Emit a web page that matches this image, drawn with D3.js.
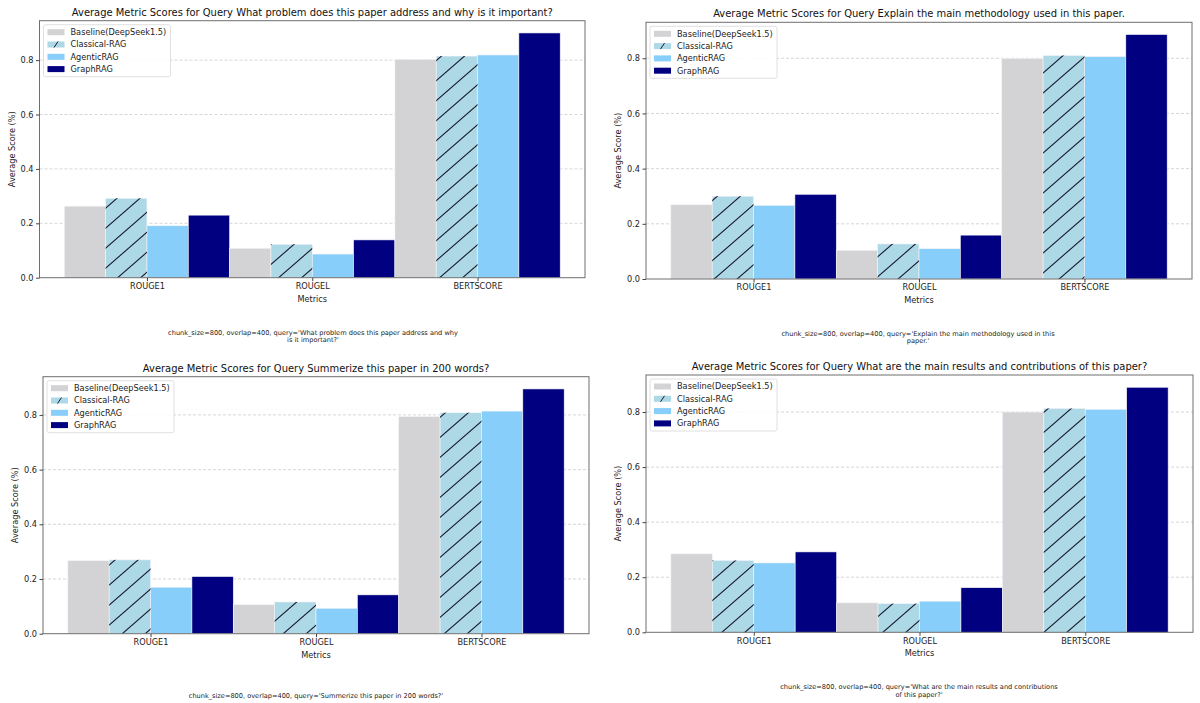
<!DOCTYPE html>
<html>
<head>
<meta charset="utf-8">
<script src="https://cdn.jsdelivr.net/npm/d3@7"></script>
<style>
  body { margin: 0; background: #fff; }
  svg { display: block; font-family: "DejaVu Sans", sans-serif; }
</style>
</head>
<body>
<div id="chart"></div>
<script>
//////////////////////////////////////////////////////////////////////////////
// Data

var metrics = ["ROUGE1", "ROUGEL", "BERTSCORE"];
var methods = ["Baseline(DeepSeek1.5)", "Classical-RAG", "AgenticRAG", "GraphRAG"];
var yTicks = [0.0, 0.2, 0.4, 0.6, 0.8];

var queries = [
    "What problem does this paper address and why is it important?",
    "Explain the main methodology used in this paper.",
    "Summerize this paper in 200 words?",
    "What are the main results and contributions of this paper?"
];

// rows = metric, columns = method
var scoresProblem = [[0.263, 0.292, 0.191, 0.230],
                     [0.108, 0.123, 0.087, 0.139],
                     [0.803, 0.815, 0.819, 0.900]];
var scoresMethod  = [[0.269, 0.300, 0.267, 0.307],
                     [0.104, 0.127, 0.110, 0.159],
                     [0.799, 0.810, 0.806, 0.886]];
var scoresSummary = [[0.267, 0.270, 0.170, 0.209],
                     [0.106, 0.116, 0.093, 0.142],
                     [0.794, 0.808, 0.814, 0.895]];
var scoresResults = [[0.285, 0.261, 0.252, 0.292],
                     [0.107, 0.104, 0.113, 0.162],
                     [0.800, 0.813, 0.810, 0.890]];

var captionLines = [
    ["chunk_size=800, overlap=400, query='What problem does this paper address and why", "is it important?'"],
    ["chunk_size=800, overlap=400, query='Explain the main methodology used in this", "paper.'"],
    ["chunk_size=800, overlap=400, query='Summerize this paper in 200 words?'"],
    ["chunk_size=800, overlap=400, query='What are the main results and contributions", "of this paper?'"]
];

//////////////////////////////////////////////////////////////////////////////
// Layout and style

var colors = ["#d3d2d5", "#add8e6", "#87cefa", "#000080"];

var panels = [
    {scores: scoresProblem, x0: 39.5, x1: 585,  y0: 20.7,  y1: 277.7, ylab: 12.5, capX: 313, capY: 332.3},
    {scores: scoresMethod,  x0: 646,  x1: 1192, y0: 22.3,  y1: 279,   ylab: 618.5, capX: 918, capY: 333.7},
    {scores: scoresSummary, x0: 43,   x1: 589,  y0: 376.7, y1: 633.7, ylab: 15.5, capX: 316, capY: 695.3},
    {scores: scoresResults, x0: 646,  x1: 1193, y0: 375,   y1: 632.3, ylab: 618.5, capX: 919, capY: 687}
];

var W = 1200, H = 703;

var svg = d3.select("#chart").append("svg")
    .attr("width", W)
    .attr("height", H);

var defs = svg.append("defs");
var hw = 23, hh = 20;
defs.append("pattern")
    .attr("id", "hatch")
    .attr("patternUnits", "userSpaceOnUse")
    .attr("width", hw)
    .attr("height", hh)
  .append("path")
    .attr("d", "M0," + hh + " L" + hw + ",0" +
               " M" + (-hw * 0.2) + "," + (hh * 0.2) + " L" + (hw * 0.2) + "," + (-hh * 0.2) +
               " M" + (hw * 0.8) + "," + (hh * 1.2) + " L" + (hw * 1.2) + "," + (hh * 0.8))
    .attr("stroke", "#1a1a2e")
    .attr("stroke-width", 1.1);

function drawPanel(p, i)
{
    var g = svg.append("g");
    var data = p.scores;
    var maxVal = d3.max(data, function(r) { return d3.max(r); });

    var x = d3.scaleLinear().domain([-0.65, 2.65]).range([p.x0, p.x1]);
    var y = d3.scaleLinear().domain([0, maxVal * 1.05]).range([p.y1, p.y0]);
    var bw = x(0.25) - x(0);

    // grid
    g.append("g").selectAll("line")
        .data(yTicks.slice(1))
        .enter().append("line")
        .attr("x1", p.x0).attr("x2", p.x1)
        .attr("y1", function(d) { return y(d); })
        .attr("y2", function(d) { return y(d); })
        .attr("stroke", "#c4c4c4")
        .attr("stroke-width", 0.7)
        .attr("stroke-dasharray", "3,2");

    // bars
    var groups = g.append("g").selectAll("g")
        .data(data)
        .enter().append("g");

    groups.selectAll("rect")
        .data(function(row, mi) {
            return row.map(function(v, si) { return {m: mi, s: si, v: v}; });
        })
        .enter().append("rect")
        .attr("x", function(d) { return x(d.m - 0.5 + d.s * 0.25); })
        .attr("y", function(d) { return y(d.v); })
        .attr("width", bw)
        .attr("height", function(d) { return y(0) - y(d.v); })
        .attr("fill", function(d) { return colors[d.s]; })
        .attr("stroke", "#f4f4f8")
        .attr("stroke-width", 0.6);

    groups.selectAll("rect.hatch")
        .data(function(row, mi) { return [{m: mi, v: row[1]}]; })
        .enter().append("rect")
        .attr("class", "hatch")
        .attr("x", function(d) { return x(d.m - 0.25); })
        .attr("y", function(d) { return y(d.v); })
        .attr("width", bw)
        .attr("height", function(d) { return y(0) - y(d.v); })
        .attr("fill", "url(#hatch)");

    // frame
    g.append("rect")
        .attr("x", p.x0).attr("y", p.y0)
        .attr("width", p.x1 - p.x0).attr("height", p.y1 - p.y0)
        .attr("fill", "none")
        .attr("stroke", "#6e6e6e")
        .attr("stroke-width", 1);

    // axes
    var yAxis = d3.axisLeft(y).tickValues(yTicks).tickFormat(d3.format(".1f")).tickSize(3.5).tickPadding(2.5);
    var ya = g.append("g").attr("transform", "translate(" + p.x0 + ",0)").call(yAxis);
    var xAxis = d3.axisBottom(x).tickValues([0, 1, 2]).tickFormat(function(d) { return metrics[d]; }).tickSize(3.5).tickPadding(2);
    var xa = g.append("g").attr("transform", "translate(0," + p.y1 + ")").call(xAxis);
    [ya, xa].forEach(function(a) {
        a.select(".domain").remove();
        a.selectAll("line").attr("stroke", "#444");
        a.selectAll("text").attr("font-size", 8.2).attr("fill", "#222")
            .attr("font-family", "DejaVu Sans, sans-serif");
    });

    // titles and labels
    g.append("text")
        .attr("x", (p.x0 + p.x1) / 2)
        .attr("y", p.y0 - 5)
        .attr("text-anchor", "middle")
        .attr("font-size", 9.95)
        .attr("fill", "#111")
        .text("Average Metric Scores for Query " + queries[i]);

    g.append("text")
        .attr("x", (p.x0 + p.x1) / 2)
        .attr("y", p.y1 + 24)
        .attr("text-anchor", "middle")
        .attr("font-size", 8.2)
        .attr("fill", "#222")
        .text("Metrics");

    g.append("text")
        .attr("transform", "translate(" + p.ylab + "," + ((p.y0 + p.y1) / 2) + ") rotate(-90)")
        .attr("dy", "0.35em")
        .attr("text-anchor", "middle")
        .attr("font-size", 8.2)
        .attr("fill", "#222")
        .text("Average Score (%)");

    g.append("g").selectAll("text")
        .data(captionLines[i])
        .enter().append("text")
        .attr("x", p.capX)
        .attr("y", function(d, k) { return p.capY + k * 7.4; })
        .attr("dy", "0.35em")
        .attr("text-anchor", "middle")
        .attr("font-size", 6.6)
        .attr("fill", "#222")
        .text(function(d) { return d; });

    // legend
    var lg = g.append("g").attr("transform", "translate(" + (p.x0 + 4) + "," + (p.y0 + 4) + ")");
    lg.append("rect")
        .attr("width", 127).attr("height", 52)
        .attr("rx", 2)
        .attr("fill", "#fff")
        .attr("fill-opacity", 0.85)
        .attr("stroke", "#d8d8d8")
        .attr("stroke-width", 0.8);
    var items = lg.selectAll("g.item")
        .data(methods)
        .enter().append("g")
        .attr("class", "item")
        .attr("transform", function(d, k) { return "translate(4," + (7.5 + k * 12.3) + ")"; });
    items.append("rect")
        .attr("y", -3)
        .attr("width", 17).attr("height", 6)
        .attr("fill", function(d, k) { return colors[k]; });
    items.filter(function(d, k) { return k === 1; })
        .append("line")
        .attr("x1", 6.5).attr("y1", 3)
        .attr("x2", 10.5).attr("y2", -3)
        .attr("stroke", "#1a1a2e")
        .attr("stroke-width", 1);
    items.append("text")
        .attr("x", 23)
        .attr("dy", "0.35em")
        .attr("font-size", 8.2)
        .attr("fill", "#222")
        .text(function(d) { return d; });
}

panels.forEach(drawPanel);
</script>
</body>
</html>
